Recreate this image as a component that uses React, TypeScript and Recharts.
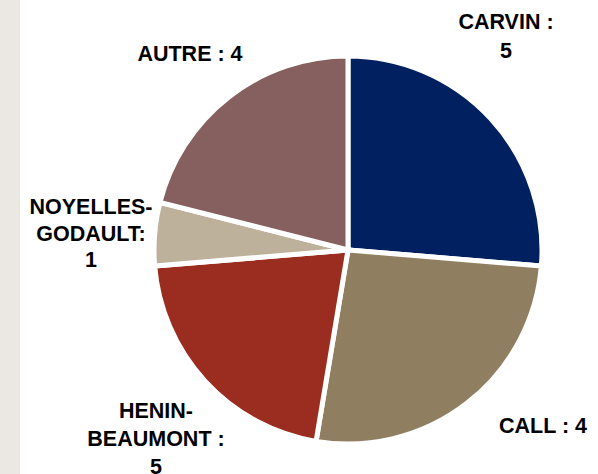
import { PieChart, Pie, Cell } from "recharts";

// slice sizes as drawn, and the counts printed in the labels
const communes = ["CARVIN", "CALL", "HENIN-BEAUMONT", "NOYELLES-GODAULT", "AUTRE"];
const sliceValues = [5, 5, 4, 1, 4];
const labelLines = [
  ["CARVIN :", "5"],
  ["CALL : 4"],
  ["HENIN-", "BEAUMONT :", "5"],
  ["NOYELLES-", "GODAULT:", "1"],
  ["AUTRE : 4"],
];
const colors = ["#002060", "#8f7e5f", "#9a2d1f", "#beb19c", "#86605e"];

const data = communes.map((name, i) => ({ name, value: sliceValues[i] }));

// label placement (x = centre, y = first baseline, dy = line step)
const labelPos = [
  { x: 506, y: 29, dy: 29 },
  { x: 543, y: 433, dy: 28 },
  { x: 156, y: 418, dy: 28 },
  { x: 91, y: 214, dy: 26.5 },
  { x: 190, y: 61, dy: 28 },
];

const renderLabel = (props: any) => {
  const { index } = props;
  const p = labelPos[index];
  const lines = labelLines[index];
  return (
    <text
      key={`lbl-${index}`}
      x={p.x}
      y={p.y}
      textAnchor="middle"
      fill="#000"
      fontFamily="'Liberation Sans', Arial, sans-serif"
      fontWeight="bold"
      fontSize={21.5}
    >
      {lines.map((line, j) => (
        <tspan key={j} x={p.x} y={p.y + j * p.dy}>
          {line}
        </tspan>
      ))}
    </text>
  );
};

export default function App() {
  return (
    <div style={{ position: "absolute", left: 0, top: 0, width: 598, height: 474, background: "#fff", overflow: "hidden" }}>
      {/* slide side strip */}
      <div style={{ position: "absolute", left: 0, top: 0, width: 20, height: 474, background: "#ebe7e2" }} />
      <div style={{ position: "absolute", left: 0, top: 0 }}>
        <PieChart width={598} height={474} margin={{ top: 0, right: 0, bottom: 0, left: 0 }}>
          <Pie
            data={data}
            dataKey="value"
            nameKey="name"
            cx={348}
            cy={250}
            outerRadius={194}
            startAngle={90}
            endAngle={-270}
            stroke="#ffffff"
            strokeWidth={5}
            label={renderLabel}
            labelLine={false}
            isAnimationActive={false}
          >
            {data.map((d, i) => (
              <Cell key={d.name} fill={colors[i]} />
            ))}
          </Pie>
        </PieChart>
      </div>
    </div>
  );
}
